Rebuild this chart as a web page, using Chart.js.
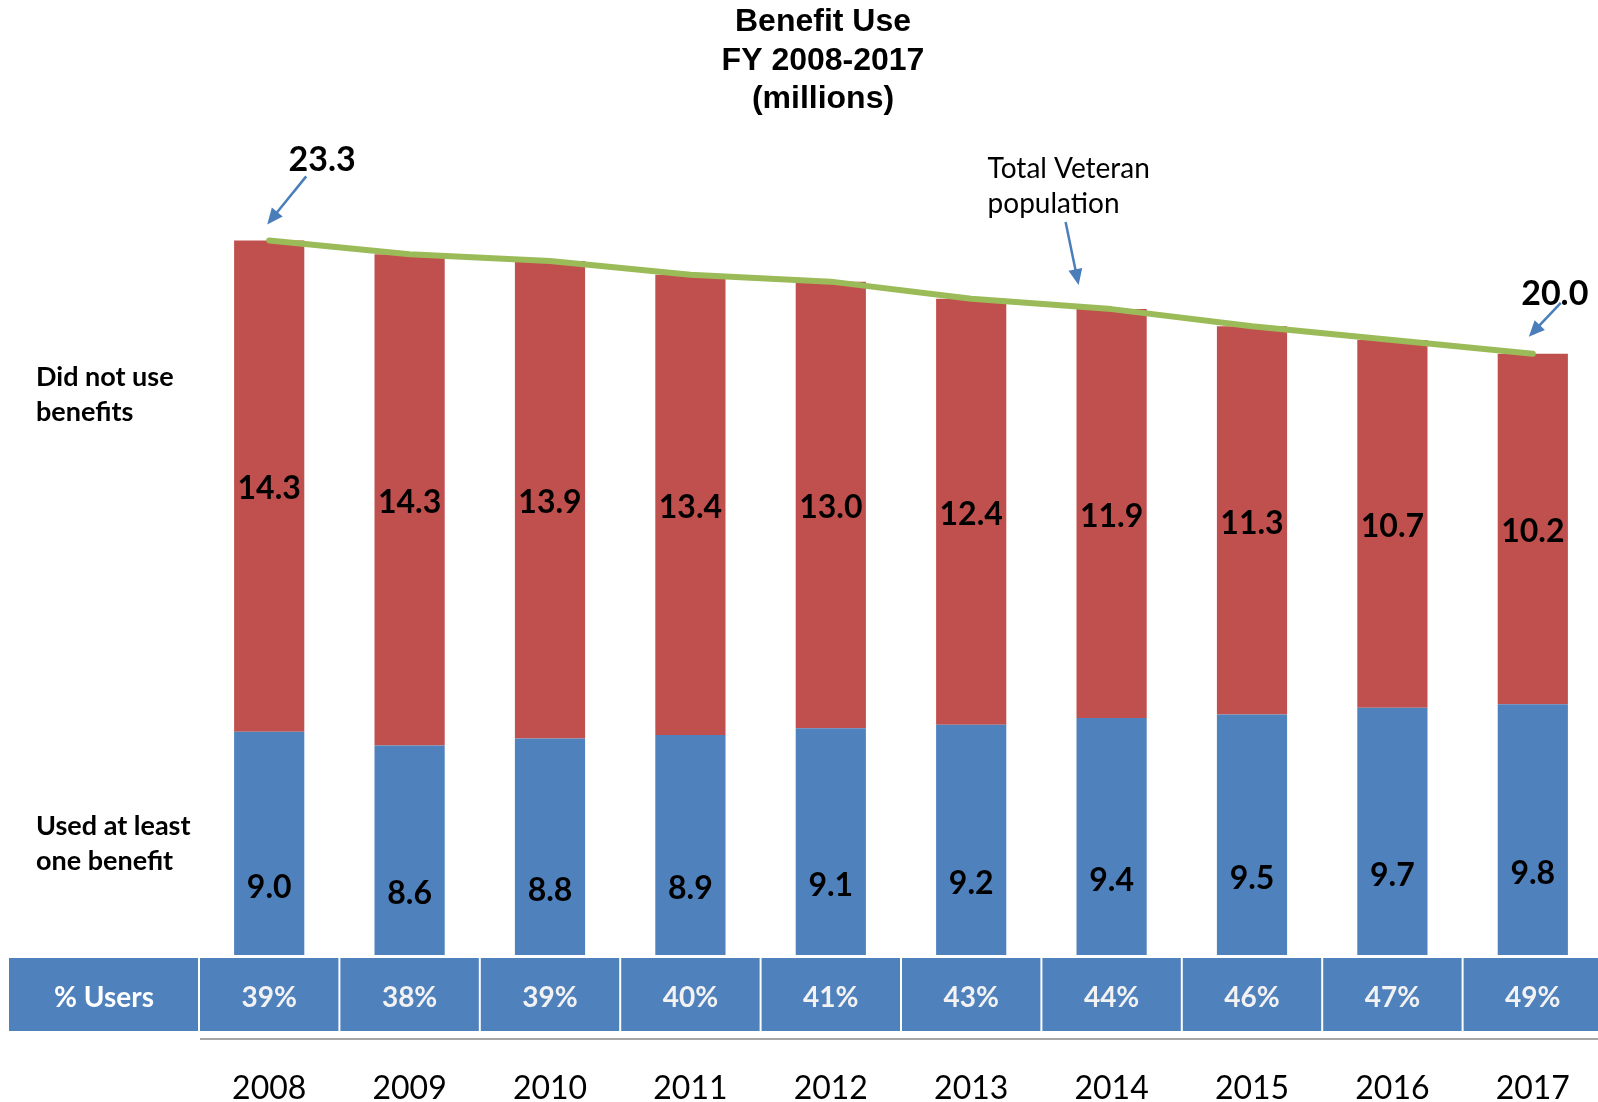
<!DOCTYPE html>
<html>
<head>
<meta charset="utf-8">
<title>Benefit Use FY 2008-2017</title>
<script src="https://cdn.jsdelivr.net/npm/chart.js@4.4.0/dist/chart.umd.min.js"></script>
<style>
  html, body { margin: 0; padding: 0; background: #ffffff; overflow: hidden; }
  canvas { display: block; }
</style>
</head>
<body>
<!-- plot runs a few px past the window edge, like the original slide -->
<canvas id="benefit-chart" width="1603" height="1102"></canvas>
<script>
// Chart data (millions of Veterans)
const years = ['2008', '2009', '2010', '2011', '2012', '2013', '2014', '2015', '2016', '2017'];
const usedBenefit = [9.0, 8.6, 8.8, 8.9, 9.1, 9.2, 9.4, 9.5, 9.7, 9.8];
const didNotUse = [14.3, 14.3, 13.9, 13.4, 13.0, 12.4, 11.9, 11.3, 10.7, 10.2];
const totalVeterans = [23.3, 22.9, 22.7, 22.3, 22.1, 21.6, 21.3, 20.8, 20.4, 20.0];
const pctUsers = [39, 38, 39, 40, 41, 43, 44, 46, 47, 49];
const titleLines = ['Benefit Use', 'FY 2008-2017', '(millions)'];

const BLUE = '#4F81BD';
const RED = '#C0504D';
const GREEN = '#9BBB59';
const ARROW = '#4A7EBB';
const LABEL_FONT = 'Lato, "Open Sans", sans-serif';

function drawArrow(ctx, x1, y1, x2, y2) {
  const ang = Math.atan2(y2 - y1, x2 - x1);
  const head = 16;
  const half = 7;
  ctx.save();
  ctx.strokeStyle = ARROW;
  ctx.fillStyle = ARROW;
  ctx.lineWidth = 2.5;
  ctx.beginPath();
  ctx.moveTo(x1, y1);
  ctx.lineTo(x2 - Math.cos(ang) * head * 0.8, y2 - Math.sin(ang) * head * 0.8);
  ctx.stroke();
  ctx.beginPath();
  ctx.moveTo(x2, y2);
  ctx.lineTo(x2 - head * Math.cos(ang) + half * Math.sin(ang), y2 - head * Math.sin(ang) - half * Math.cos(ang));
  ctx.lineTo(x2 - head * Math.cos(ang) - half * Math.sin(ang), y2 - head * Math.sin(ang) + half * Math.cos(ang));
  ctx.closePath();
  ctx.fill();
  ctx.restore();
}

// Title, value labels, "% Users" row, side captions and callouts
const overlayPlugin = {
  id: 'benefitOverlay',
  afterDatasetsDraw(chart) {
    const ctx = chart.ctx;
    const yScale = chart.scales.y;
    const xScale = chart.scales.x;
    const area = chart.chartArea;

    ctx.save();
    ctx.textAlign = 'center';
    ctx.textBaseline = 'middle';
    ctx.fillStyle = '#000';

    // title
    ctx.font = 'bold 32px "Liberation Sans", Arial, sans-serif';
    titleLines.forEach((line, i) => {
      ctx.fillText(line, 823, 22 + i * 38.7);
    });

    // bar segment values
    ctx.font = 'bold 32px ' + LABEL_FONT;
    const usedMeta = chart.getDatasetMeta(0);
    const notMeta = chart.getDatasetMeta(1);
    usedMeta.data.forEach((bar, i) => {
      ctx.fillText(usedBenefit[i].toFixed(1), bar.x, yScale.getPixelForValue(usedBenefit[i] / 2) + 1);
    });
    notMeta.data.forEach((bar, i) => {
      const mid = usedBenefit[i] + didNotUse[i] / 2;
      ctx.fillText(didNotUse[i].toFixed(1), bar.x, yScale.getPixelForValue(mid) + 3);
    });

    // % Users table under the bars
    const rowTop = area.bottom + 3;
    const rowBottom = area.bottom + 76;
    const textY = (rowTop + rowBottom) / 2 + 3;
    ctx.fillStyle = BLUE;
    ctx.fillRect(9, rowTop, area.left - 10, rowBottom - rowTop);
    ctx.fillStyle = '#ffffff';
    ctx.font = 'bold 28px ' + LABEL_FONT;
    ctx.fillText('% Users', (9 + area.left) / 2, textY);

    const step = xScale.getPixelForValue(1) - xScale.getPixelForValue(0);
    pctUsers.forEach((p, i) => {
      const cx = xScale.getPixelForValue(i);
      const left = cx - step / 2 + 1;
      const right = Math.min(cx + step / 2 - 1, chart.width);
      ctx.fillStyle = BLUE;
      ctx.fillRect(left, rowTop, right - left, rowBottom - rowTop);
      ctx.fillStyle = '#F2F2F2';
      ctx.fillText(p + '%', cx, textY);
    });

    // thin axis rule under the table
    ctx.strokeStyle = '#A6A6A6';
    ctx.lineWidth = 2;
    ctx.beginPath();
    ctx.moveTo(area.left + 1, rowBottom + 8);
    ctx.lineTo(chart.width, rowBottom + 8);
    ctx.stroke();

    // side captions
    ctx.fillStyle = '#000';
    ctx.textAlign = 'left';
    ctx.font = 'bold 27px ' + LABEL_FONT;
    ctx.fillText('Did not use', 36, 377);
    ctx.fillText('benefits', 36, 412);
    ctx.fillText('Used at least', 36, 826);
    ctx.fillText('one benefit', 36, 861);

    // callouts on the total line
    const lineMeta = chart.getDatasetMeta(2);
    const first = lineMeta.data[0];
    const last = lineMeta.data[lineMeta.data.length - 1];
    const mid = lineMeta.data[6];

    ctx.textAlign = 'center';
    ctx.font = 'bold 34px ' + LABEL_FONT;
    ctx.fillText(totalVeterans[0].toFixed(1), first.x + 53, first.y - 80);
    drawArrow(ctx, first.x + 37, first.y - 64, first.x - 2, first.y - 16);

    ctx.fillText(totalVeterans[totalVeterans.length - 1].toFixed(1), last.x + 22, last.y - 60);
    drawArrow(ctx, last.x + 28, last.y - 51, last.x - 4, last.y - 17);

    ctx.textAlign = 'left';
    ctx.font = '28px ' + LABEL_FONT;
    ctx.fillText('Total Veteran', mid.x - 124, mid.y - 140);
    ctx.fillText('population', mid.x - 124, mid.y - 105);
    drawArrow(ctx, mid.x - 46, mid.y - 87, mid.x - 33, mid.y - 24);

    ctx.restore();
  }
};

const ctx = document.getElementById('benefit-chart').getContext('2d');
const benefitChart = new Chart(ctx, {
  type: 'bar',
  data: {
    labels: years,
    datasets: [
      {
        label: 'Used at least one benefit',
        data: usedBenefit,
        backgroundColor: BLUE,
        order: 1
      },
      {
        label: 'Did not use benefits',
        data: didNotUse,
        backgroundColor: RED,
        order: 1
      },
      {
        type: 'line',
        label: 'Total Veteran population',
        data: totalVeterans,
        stack: 'total',
        borderColor: GREEN,
        borderWidth: 6,
        borderCapStyle: 'round',
        borderJoinStyle: 'round',
        pointRadius: 0,
        tension: 0,
        fill: false,
        order: 0
      }
    ]
  },
  options: {
    responsive: false,
    devicePixelRatio: 1,
    animation: false,
    datasets: {
      bar: {
        categoryPercentage: 1.0,
        barPercentage: 0.5
      }
    },
    layout: {
      padding: { left: 199, right: 0, top: 182, bottom: 0 }
    },
    plugins: {
      legend: { display: false },
      tooltip: { enabled: false },
      title: { display: false }
    },
    scales: {
      x: {
        stacked: true,
        grid: { display: false, drawTicks: false },
        border: { display: false },
        ticks: {
          color: '#000',
          padding: 114,
          maxRotation: 0,
          font: { family: LABEL_FONT, size: 32 }
        },
        afterFit(scale) {
          // keep the year row far below the bars without shrinking the plot
          scale.height = 147;
          scale.paddingLeft = 0;
          scale.paddingRight = 0;
        }
      },
      y: {
        stacked: true,
        display: false,
        min: 2.5,
        max: 25
      }
    }
  },
  plugins: [overlayPlugin]
});
</script>
</body>
</html>
